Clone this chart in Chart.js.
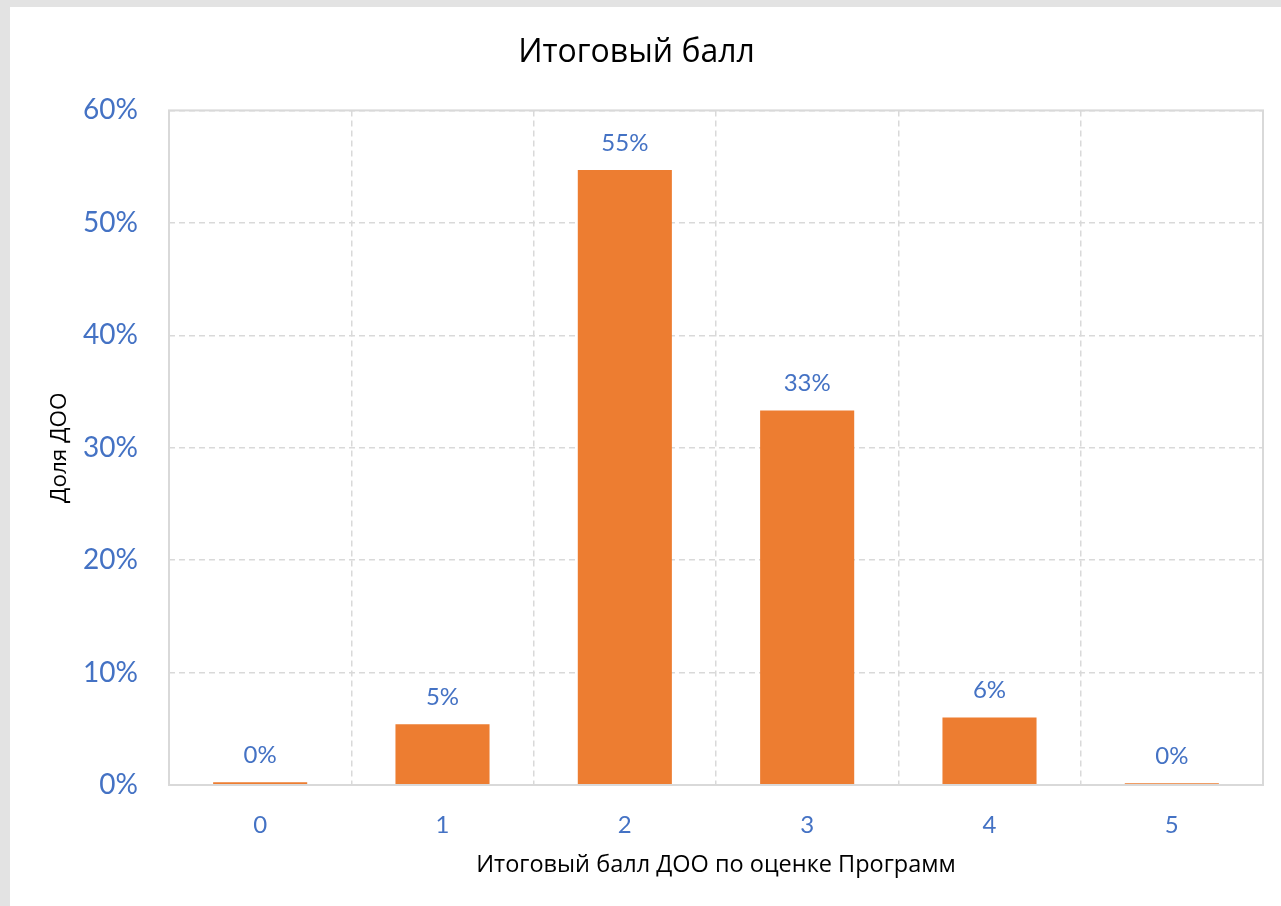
<!DOCTYPE html>
<html><head><meta charset="utf-8">
<script src="https://cdn.jsdelivr.net/npm/chart.js@4/dist/chart.umd.min.js"></script>
<style>
html,body{margin:0;padding:0;background:#e3e3e3;width:1281px;height:906px;overflow:hidden}
#wrap{position:absolute;left:10px;top:7px;width:1271px;height:899px;background:#fff}
canvas{display:block}
</style></head><body>
<div id="wrap"><canvas id="c" width="1271" height="899"></canvas></div>
<script>
const categories = ['0','1','2','3','4','5'];
const shares = [0.25, 5.4, 54.7, 33.3, 6.0, 0.15];
const yTicks = [0,10,20,30,40,50,60];
const titleText = 'Итоговый балл';
const xTitle = 'Итоговый балл ДОО по оценке Программ';
const yTitle = 'Доля ДОО';

const NUMFONT = 'Lato, "Open Sans", sans-serif';
const TXTFONT = '"Open Sans", "Noto Sans", sans-serif';
const BLUE = '#4472C4';
const GRID = '#d9d9d9';

const frame = {
  id:'frame',
  afterDraw(chart){
    const a = chart.chartArea, ctx = chart.ctx;
    ctx.save(); ctx.strokeStyle = GRID; ctx.lineWidth = 2; ctx.setLineDash([]);
    ctx.strokeRect(a.left, a.top, a.right-a.left, a.bottom-a.top);
    ctx.restore();
  }
};
const labels = {
  id:'labels',
  afterDatasetsDraw(chart){
    const ctx = chart.ctx, meta = chart.getDatasetMeta(0);
    ctx.save(); ctx.fillStyle = BLUE; ctx.font = '24px ' + NUMFONT;
    ctx.textAlign = 'center'; ctx.textBaseline = 'bottom';
    meta.data.forEach((bar,i)=>{
      ctx.fillText(Math.round(shares[i]) + '%', bar.x, bar.y - 15);
    });
    ctx.restore();
  }
};

new Chart(document.getElementById('c'), {
  type:'bar',
  data:{ labels: categories, datasets:[{ data: shares, backgroundColor:'#ED7D31', barPercentage:0.516, categoryPercentage:1 }]},
  options:{
    responsive:false, animation:false,
    layout:{ padding:{ left:0, right:18, top:0, bottom:0 } },
    plugins:{
      legend:{display:false}, tooltip:{enabled:false},
      title:{ display:true, text:titleText, color:'#000', font:{family:TXTFONT, size:32, weight:'normal'}, padding:{top:27, bottom:38} }
    },
    scales:{
      x:{
        grid:{ color:GRID, lineWidth:1.5, drawTicks:false, offset:true },
        border:{ display:false, dash:[6,4] },
        ticks:{ color:BLUE, font:{family:NUMFONT, size:24}, padding:26 },
        title:{ display:true, text:xTitle, color:'#000', font:{family:TXTFONT, size:23.5}, padding:{top:0, bottom:27} },
        afterFit(s){ s.height = 121; }
      },
      y:{
        min:0, max:60,
        afterBuildTicks(s){ s.ticks = yTicks.map(v=>({value:v})); },
        grid:{ color:GRID, lineWidth:1.5, drawTicks:false },
        border:{ display:false, dash:[6,4] },
        ticks:{ color:BLUE, font:{family:NUMFONT, size:28}, padding:31, callback:v=>v+'%' },
        title:{ display:true, text:yTitle, color:'#000', font:{family:TXTFONT, size:22.5}, padding:{top:36, bottom:0} },
        afterFit(s){ s.width = 159; }
      }
    }
  },
  plugins:[frame, labels]
});
</script></body></html>
